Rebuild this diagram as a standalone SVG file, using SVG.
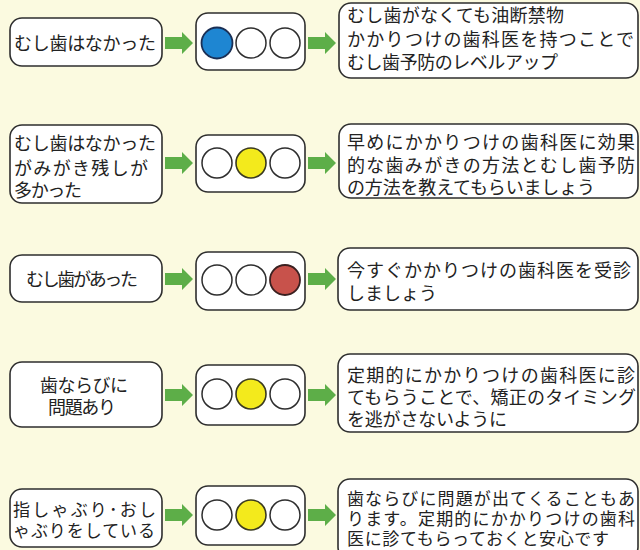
<svg xmlns="http://www.w3.org/2000/svg" xmlns:xlink="http://www.w3.org/1999/xlink" width="640" height="550" viewBox="0 0 640 550">
<style>
.bg{fill:#FBFAE0}
.box{fill:#FFFFFF;stroke:#2E2E2E;stroke-width:1.6}
.lamp{fill:#FFFFFF;stroke:#2E2E2E;stroke-width:1.5}
.blue{fill:#1E86D2;stroke:#1A2F55;stroke-width:1.8}
.yellow{fill:#F3EA1C;stroke:#3A3A20;stroke-width:1.6}
.red{fill:#C8524B;stroke:#3A2020;stroke-width:1.8}
.arrow{fill:#5DAE48}
text{font-family:"Noto Sans CJK JP","Noto Sans",sans-serif;font-size:18px;fill:#222222}
.s{font-size:17px}
.c{text-anchor:middle}
</style>
<defs>
<path id="arr" d="M0,-6 H17 V-11 L28,0 L17,11 V6 H0 Z"/>
</defs>
<rect class="bg" x="0" y="0" width="640" height="550"/>

<g id="connectors" class="arrow">
<use xlink:href="#arr" x="165" y="43"/>
<use xlink:href="#arr" x="308" y="43"/>
<use xlink:href="#arr" x="165" y="163"/>
<use xlink:href="#arr" x="308" y="163"/>
<use xlink:href="#arr" x="165" y="279"/>
<use xlink:href="#arr" x="308" y="279"/>
<use xlink:href="#arr" x="165" y="395"/>
<use xlink:href="#arr" x="308" y="395"/>
<use xlink:href="#arr" x="165" y="515"/>
<use xlink:href="#arr" x="308" y="515"/>
</g>

<!-- Row 1 -->
<g id="cond1">
<rect class="box" x="10" y="18" width="152" height="48" rx="12"/>
<text x="14" y="50" textLength="142" lengthAdjust="spacing">むし歯はなかった</text>
</g>
<g id="light1">
<rect class="box" x="196" y="13" width="109" height="57" rx="12"/>
<circle class="blue" cx="217" cy="43" r="15.5"/>
<circle class="lamp" cx="251" cy="43" r="15"/>
<circle class="lamp" cx="285" cy="43" r="15"/>
</g>
<g id="advice1">
<rect class="box" x="339" y="3" width="299" height="75" rx="12"/>
<text x="347" y="22" textLength="217" lengthAdjust="spacing">むし歯がなくても油断禁物</text>
<text x="347" y="46" textLength="287" lengthAdjust="spacing">かかりつけの歯科医を持つことで</text>
<text x="347" y="69" textLength="211" lengthAdjust="spacing">むし歯予防のレベルアップ</text>
</g>

<!-- Row 2 -->
<g id="cond2">
<rect class="box" x="10" y="125" width="152" height="78" rx="12"/>
<text x="14" y="150" textLength="142" lengthAdjust="spacing">むし歯はなかった</text>
<text x="14" y="175" textLength="134" lengthAdjust="spacing">がみがき残しが</text>
<text x="14" y="197" textLength="68" lengthAdjust="spacing">多かった</text>
</g>
<g id="light2">
<rect class="box" x="196" y="135" width="109" height="57" rx="12"/>
<circle class="lamp" cx="217" cy="163" r="15"/>
<circle class="yellow" cx="251" cy="163" r="15"/>
<circle class="lamp" cx="285" cy="163" r="15"/>
</g>
<g id="advice2">
<rect class="box" x="339" y="124" width="299" height="74" rx="12"/>
<text x="347" y="149" textLength="288" lengthAdjust="spacing">早めにかかりつけの歯科医に効果</text>
<text x="347" y="172" textLength="288" lengthAdjust="spacing">的な歯みがきの方法とむし歯予防</text>
<text x="347" y="194" textLength="248" lengthAdjust="spacing">の方法を教えてもらいましょう</text>
</g>

<!-- Row 3 -->
<g id="cond3">
<rect class="box" x="10" y="255" width="152" height="47" rx="12"/>
<text class="c" x="82" y="286" textLength="112" lengthAdjust="spacing">むし歯があった</text>
</g>
<g id="light3">
<rect class="box" x="196" y="252" width="109" height="58" rx="12"/>
<circle class="lamp" cx="217" cy="280" r="15"/>
<circle class="lamp" cx="251" cy="280" r="15"/>
<circle class="red" cx="285" cy="280" r="15"/>
</g>
<g id="advice3">
<rect class="box" x="338" y="248" width="300" height="62" rx="12"/>
<text x="347" y="277" textLength="284" lengthAdjust="spacing">今すぐかかりつけの歯科医を受診</text>
<text x="347" y="300" textLength="90" lengthAdjust="spacing">しましょう</text>
</g>

<!-- Row 4 -->
<g id="cond4">
<rect class="box" x="10" y="362" width="152" height="65" rx="12"/>
<text class="c" x="84" y="392" textLength="88" lengthAdjust="spacing">歯ならびに</text>
<text class="c" x="82" y="414" textLength="68" lengthAdjust="spacing">問題あり</text>
</g>
<g id="light4">
<rect class="box" x="196" y="365" width="109" height="60" rx="12"/>
<circle class="lamp" cx="217" cy="394" r="15"/>
<circle class="yellow" cx="251" cy="394" r="15"/>
<circle class="lamp" cx="285" cy="394" r="15"/>
</g>
<g id="advice4">
<rect class="box" x="338" y="354" width="300" height="78" rx="12"/>
<text x="347" y="382" textLength="288" lengthAdjust="spacing">定期的にかかりつけの歯科医に診</text>
<text x="347" y="404" textLength="289" lengthAdjust="spacing">てもらうことで、矯正のタイミング</text>
<text x="347" y="426" textLength="160" lengthAdjust="spacing">を逃がさないように</text>
</g>

<!-- Row 5 -->
<g id="cond5">
<rect class="box" x="10" y="489" width="152" height="58" rx="12"/>
<text class="s" x="13" y="516" textLength="143" lengthAdjust="spacing">指しゃぶり･おし</text>
<text class="s" x="13" y="537" textLength="142" lengthAdjust="spacing">ゃぶりをしている</text>
</g>
<g id="light5">
<rect class="box" x="196" y="486" width="109" height="59" rx="12"/>
<circle class="lamp" cx="217" cy="515" r="15"/>
<circle class="yellow" cx="251" cy="515" r="15"/>
<circle class="lamp" cx="285" cy="515" r="15"/>
</g>
<g id="advice5">
<rect class="box" x="338" y="479" width="300" height="80" rx="12"/>
<text class="s" x="347" y="505" textLength="288" lengthAdjust="spacing">歯ならびに問題が出てくることもあ</text>
<text class="s" x="347" y="525" textLength="288" lengthAdjust="spacing">ります。定期的にかかりつけの歯科</text>
<text class="s" x="347" y="545" textLength="262" lengthAdjust="spacing">医に診てもらっておくと安心です</text>
</g>
</svg>
